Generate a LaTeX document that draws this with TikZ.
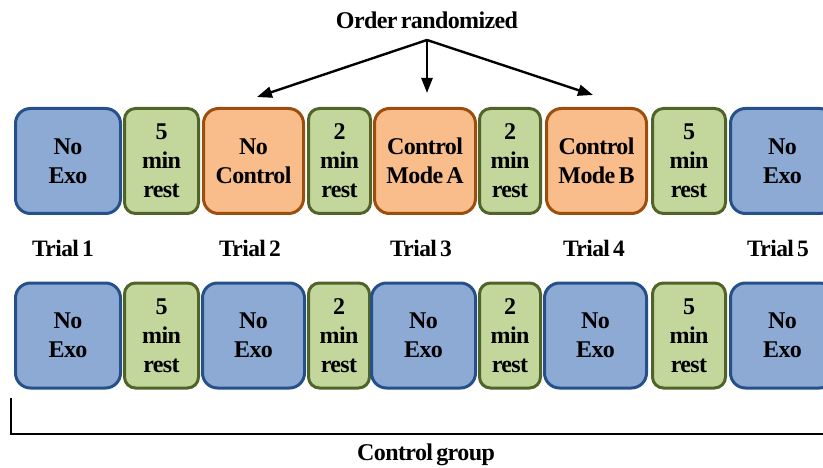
\documentclass[tikz,border=0pt]{standalone}
\usepackage{fontspec}
\setmainfont{Liberation Serif}[LetterSpace=-2.5, WordSpace=0.6]
\usetikzlibrary{arrows.meta}
\definecolor{bfill}{RGB}{141,170,212}
\definecolor{bdraw}{RGB}{38,80,138}
\definecolor{gfill}{RGB}{195,214,155}
\definecolor{gdraw}{RGB}{80,99,40}
\definecolor{ofill}{RGB}{248,189,138}
\definecolor{odraw}{RGB}{158,78,12}
\begin{document}
\begin{tikzpicture}[x=1pt,y=-1pt,
  every node/.style={font=\fontsize{24}{29}\selectfont\bfseries, align=center, inner sep=0pt},
  box/.style={draw, line width=3pt, minimum height=105pt},
  exo/.style={box, fill=bfill, draw=bdraw, rounded corners=15pt},
  rest/.style={box, fill=gfill, draw=gdraw, rounded corners=11pt},
  ctrl/.style={box, fill=ofill, draw=odraw, rounded corners=15pt},
  lbl/.style={font=\fontsize{23.5}{28}\selectfont\bfseries},
  arr/.style={line width=2.4pt, -{Triangle[length=15pt,width=11pt]}}]
\useasboundingbox (0,0) rectangle (823,468);
% top row
\node[exo,  minimum width=105pt] (t1) at (68,161) {No\\Exo};
\node[rest, minimum width=74pt]  (t2) at (161.5,161) {5\\min\\rest};
\node[ctrl, minimum width=100pt] (t3) at (253.5,161) {No\\Control};
\node[rest, minimum width=62pt]  (t4) at (339.5,161) {2\\min\\rest};
\node[ctrl, minimum width=101pt] (t5) at (425,161) {Control\\Mode A};
\node[rest, minimum width=61pt]  (t6) at (510,161) {2\\min\\rest};
\node[ctrl, minimum width=100pt] (t7) at (596.5,161) {Control\\Mode B};
\node[rest, minimum width=73pt]  (t8) at (689,161) {5\\min\\rest};
\node[exo,  minimum width=104pt] (t9) at (782.5,161) {No\\Exo};
% bottom row
\node[exo,  minimum width=105pt] (b1) at (68,335.5) {No\\Exo};
\node[rest, minimum width=74pt]  (b2) at (161.5,335.5) {5\\min\\rest};
\node[exo,  minimum width=102pt] (b3) at (253.5,335.5) {No\\Exo};
\node[rest, minimum width=61pt]  (b4) at (339,335.5) {2\\min\\rest};
\node[exo,  minimum width=104pt] (b5) at (423.5,335.5) {No\\Exo};
\node[rest, minimum width=61pt]  (b6) at (510,335.5) {2\\min\\rest};
\node[exo,  minimum width=102pt] (b7) at (595.5,335.5) {No\\Exo};
\node[rest, minimum width=73pt]  (b8) at (689,335.5) {5\\min\\rest};
\node[exo,  minimum width=104pt] (b9) at (782.5,335.5) {No\\Exo};
% trial labels
\node[lbl] (tr1) at (63,248) {Trial 1};
\node[lbl] (tr2) at (250,248) {Trial 2};
\node[lbl] (tr3) at (421,248) {Trial 3};
\node[lbl] (tr4) at (594,248) {Trial 4};
\node[lbl] (tr5) at (778,248) {Trial 5};
% order randomized
\node (ord) at (427,20) {Order randomized};
\coordinate (src) at (427,40);
\coordinate (a1) at (257,97);
\coordinate (a2) at (427,93);
\coordinate (a3) at (593,95);
\draw[arr] (src) -- (a1);
\draw[arr] (src) -- (a2);
\draw[arr] (src) -- (a3);
% bracket
\coordinate (bl) at (11,398);
\coordinate (bc) at (11,434);
\coordinate (br) at (830,434);
\draw[line width=2pt] (bl) -- (bc) -- (br);
\node (cg) at (426,455) {Control group};
\end{tikzpicture}
\end{document}
